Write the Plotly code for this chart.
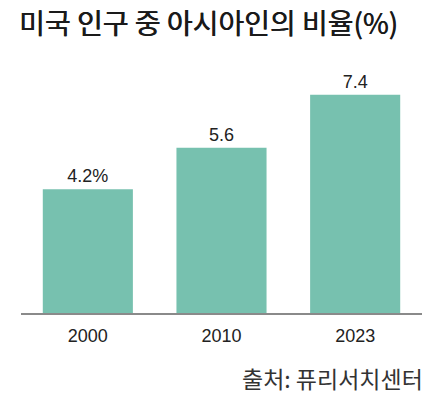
import plotly.graph_objects as go

years = ["2000", "2010", "2023"]
values = [4.2, 5.6, 7.4]
labels = ["4.2%", "5.6", "7.4"]

title = "미국 인구 중 아시아인의 비율(%)"
source = "출처: 퓨리서치센터"

fig = go.Figure(go.Bar(
    x=years, y=values, text=labels, textposition="outside",
    marker=dict(color="#77c1af", line=dict(width=0)),
    textfont=dict(family="Arial, Liberation Sans, sans-serif", size=18, color="#222222"),
    cliponaxis=False,
))

fig.update_layout(
    width=437, height=397,
    margin=dict(l=21, r=15, t=60, b=84),
    paper_bgcolor="white", plot_bgcolor="white",
    bargap=0.326,
    showlegend=False,
    xaxis=dict(showline=True, linecolor="#8a8a8a", linewidth=2, showgrid=False,
               ticks="", ticklabelstandoff=5,
               tickfont=dict(family="Arial, Liberation Sans, sans-serif", size=18, color="#222222")),
    yaxis=dict(range=[0, 8.58], visible=False, showgrid=False, zeroline=False),
    annotations=[
        dict(text=title, x=0, y=1, xref="paper", yref="paper", xanchor="left", yanchor="middle",
             xshift=-21+17, yshift=60-22, showarrow=False,
             font=dict(family="Noto Sans CJK KR", size=28, color="#1a1a1a",
                       shadow="0.6px 0 0 #1a1a1a")),
        dict(text=source, x=1, y=0, xref="paper", yref="paper", xanchor="right", yanchor="middle",
             xshift=3, yshift=-(378-313), showarrow=False,
             font=dict(family="Noto Sans CJK KR", size=23, color="#333333")),
    ],
)

fig.write_html("out.html", config={"displayModeBar": False},
               post_script="document.body.style.margin='0';")
